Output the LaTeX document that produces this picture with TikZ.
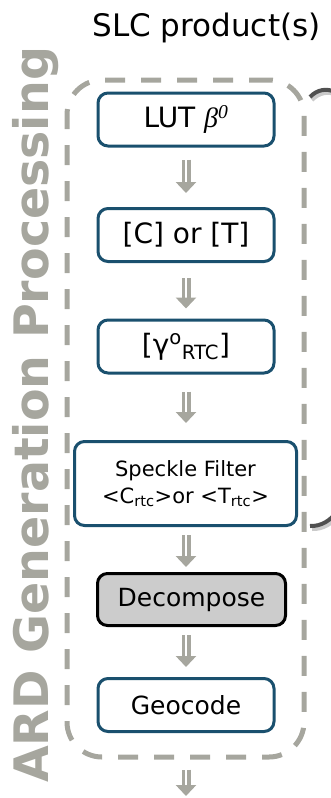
\documentclass[tikz,border=0pt]{standalone}
\usepackage{fontspec}
\setmainfont{DejaVu Sans}
\newfontfamily\betafont{Liberation Serif}
\usetikzlibrary{arrows.meta}

\definecolor{stageblue}{RGB}{26,80,110}
\definecolor{framegray}{RGB}{166,166,158}
\definecolor{bracegray}{RGB}{80,80,80}

\tikzset{
  stage/.style={draw=stageblue, line width=3pt, rounded corners=10pt, fill=white,
    minimum width=176pt, minimum height=53pt, inner sep=0pt,
    font=\fontsize{28}{30}\selectfont},
  flow/.style={draw=framegray, double=white, double distance=2pt, line width=3.5pt,
    -{Triangle[width=20pt,length=11pt]}},
}

\begin{document}
\begin{tikzpicture}[x=1pt,y=-1pt]
      \useasboundingbox (0,0) rectangle (331,798);

      % dashed frame and side title
      \node[draw=framegray, line width=5pt, dash pattern=on 20pt off 16pt, rounded corners=35pt,
        minimum width=237pt, minimum height=677pt] (frame) at (185.5,418.5) {};
      \node[rotate=90, anchor=base west, inner sep=0pt, text=framegray,
        font=\bfseries\fontsize{47.5}{50}\selectfont] (side) at (48,783) {ARD Generation Processing};

      \node[anchor=base, inner sep=0pt, font=\fontsize{31}{33}\selectfont] (slc) at (206.5,36) {SLC product(s)};

      % brace on the right
      \draw[bracegray!30, line width=4pt] (312,100) .. controls (326,85) and (352,93) .. (352,128) -- (352,470)
        .. controls (352,505) and (334,530) .. (312,529);
      \draw[bracegray, line width=4pt] (310,97) .. controls (324,82) and (350,90) .. (350,125) -- (350,467)
        .. controls (350,502) and (332,527) .. (310,526);

      \node[stage] (lut) at (186,119.5) {LUT {\betafont\itshape β\textsuperscript{0}}};
      \node[stage] (ct) at (186,235) {[C] or [T]};
      \node[stage] (gamma) at (186,346.5) {[γ\textsuperscript{o}\textsubscript{RTC}]};
      \node[stage, minimum width=222pt, minimum height=84pt, align=center,
        font=\fontsize{21}{27}\selectfont] (speckle) at (185.5,483.5)
        {Speckle Filter\\<C\textsubscript{rtc}>or <T\textsubscript{rtc}>};
      \node[stage, draw=black, fill=black!20, minimum width=188pt, minimum height=52pt,
        font=\fontsize{25}{27}\selectfont] (decomp) at (191.5,599.5) {Decompose};
      \node[stage, font=\fontsize{25}{27}\selectfont] (geocode) at (186,705) {Geocode};
      \coordinate (out) at (186,797);

      \draw[flow, shorten <=12pt, shorten >=14pt] (lut) -- (ct);
      \draw[flow, shorten <=15pt, shorten >=10pt] (ct) -- (gamma);
      \draw[flow, shorten <=17pt, shorten >=17pt] (gamma) -- (gamma |- speckle.north);
      \draw[flow, shorten <=8pt, shorten >=5pt] (speckle.south -| gamma) -- (gamma |- decomp.north);
      \draw[flow, shorten <=8pt, shorten >=10pt] (gamma |- decomp.south) -- (geocode);
      \draw[flow, shorten <=10pt, shorten >=1pt] (frame.south -| geocode) -- (out);

\end{tikzpicture}
\end{document}
